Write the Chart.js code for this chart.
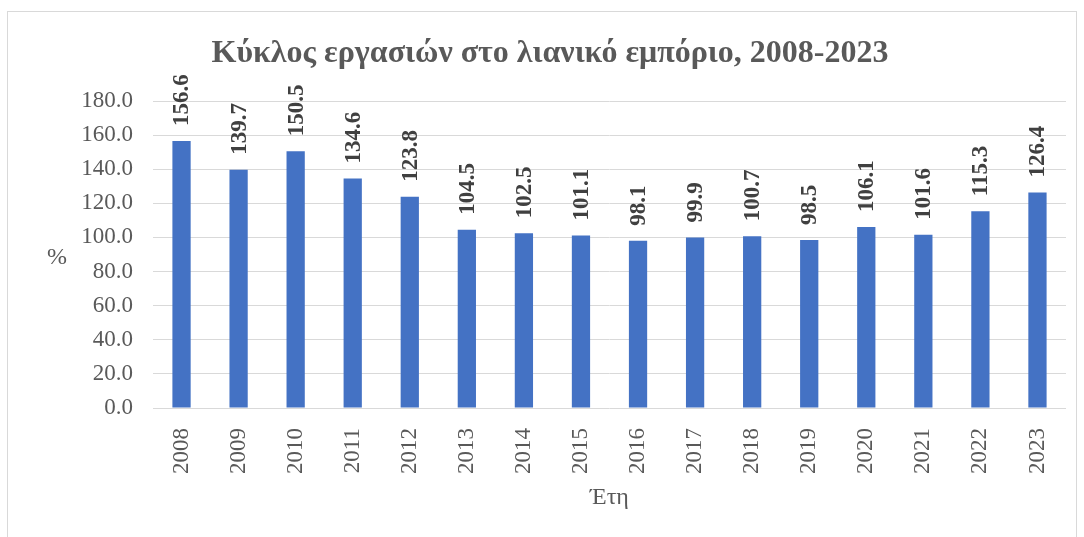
<!DOCTYPE html>
<html><head><meta charset="utf-8">
<script src="https://cdn.jsdelivr.net/npm/chart.js@4"></script>
<style>
html,body{margin:0;padding:0;background:#fff;}
#wrap{position:relative;width:1084px;height:537px;overflow:hidden;background:#fff;}
#frame{position:absolute;left:7px;top:11px;width:1070px;height:560px;border:1px solid #d9d9d9;box-sizing:border-box;}
canvas{position:absolute;left:0;top:0;}
</style></head>
<body><div id="wrap"><div id="frame"></div><canvas id="c" width="1084" height="537"></canvas></div>
<script>
const chartTitle = "Κύκλος εργασιών στο λιανικό εμπόριο, 2008-2023";
const xTitle = "Έτη";
const yTitle = "%";
const years = ["2008","2009","2010","2011","2012","2013","2014","2015","2016","2017","2018","2019","2020","2021","2022","2023"];
const values = [156.6,139.7,150.5,134.6,123.8,104.5,102.5,101.1,98.1,99.9,100.7,98.5,106.1,101.6,115.3,126.4];
const yMin = 0, yMax = 180, yStep = 20;

const SERIF = '"Liberation Serif","Times New Roman",serif';

const textPlugin = {
  id: 'texts',
  afterDatasetsDraw(chart) {
    const ctx = chart.ctx;
    const ca = chart.chartArea;
    ctx.save();
    // data labels
    ctx.fillStyle = '#404040';
    ctx.font = 'bold 23px ' + SERIF;
    ctx.textAlign = 'left';
    ctx.textBaseline = 'middle';
    const meta = chart.getDatasetMeta(0);
    meta.data.forEach((bar, i) => {
      ctx.save();
      ctx.translate(bar.x, bar.y - 15);
      ctx.rotate(-Math.PI / 2);
      ctx.fillText(values[i].toFixed(1), 0, 1);
      ctx.restore();
    });
    // title
    ctx.fillStyle = '#595959';
    ctx.font = 'bold 32px ' + SERIF;
    ctx.textAlign = 'center';
    ctx.textBaseline = 'alphabetic';
    ctx.fillText(chartTitle, 550, 62);
    // axis titles
    ctx.font = '24px ' + SERIF;
    ctx.textBaseline = 'middle';
    ctx.fillText(yTitle, 57, 258);
    ctx.fillText(xTitle, (ca.left + ca.right) / 2, 498);
    ctx.restore();
  }
};

new Chart(document.getElementById('c'), {
  type: 'bar',
  data: {
    labels: years,
    datasets: [{
      data: values,
      backgroundColor: '#4472C4',
      borderWidth: 0,
      barPercentage: 0.64,
      categoryPercentage: 0.5
    }]
  },
  options: {
    responsive: false,
    animation: false,
    devicePixelRatio: 1,
    layout: { padding: { left: 0, right: 18, top: 101, bottom: 0 } },
    plugins: { legend: { display: false }, tooltip: { enabled: false }, title: { display: false } },
    scales: {
      x: {
        grid: { display: false },
        border: { display: false },
        ticks: {
          minRotation: 90, maxRotation: 90,
          padding: 12,
          color: '#595959',
          font: { family: SERIF, size: 23 }
        },
        afterFit(scale) { scale.height = 129; }
      },
      y: {
        min: yMin, max: yMax,
        grid: { color: '#d9d9d9', lineWidth: 1, drawTicks: false },
        border: { display: false },
        ticks: {
          stepSize: yStep,
          padding: 20,
          color: '#595959',
          font: { family: SERIF, size: 23 },
          callback: v => Number(v).toFixed(1)
        },
        afterFit(scale) { scale.width = 153; }
      }
    }
  },
  plugins: [textPlugin]
});
</script>
</body></html>
